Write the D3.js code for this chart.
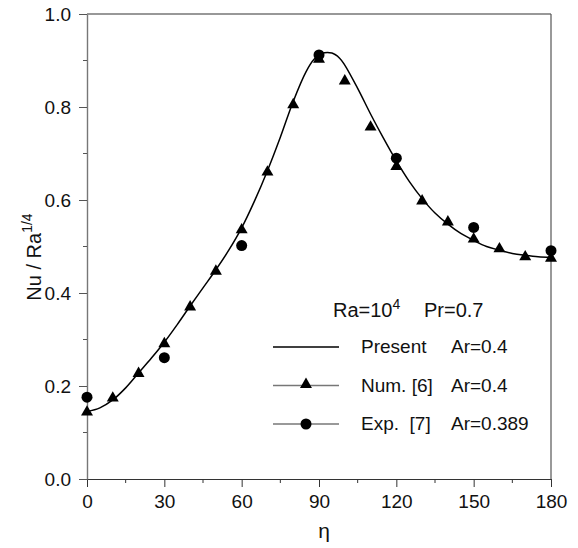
<!DOCTYPE html>
<html>
<head>
<meta charset="utf-8">
<script src="https://cdn.jsdelivr.net/npm/d3@7"></script>
<style>
  body { margin: 0; background: #fff; }
  svg { font-family: "Liberation Sans", Arial, sans-serif; }
</style>
</head>
<body>
<svg></svg>
<script>
const width = 578;
const height = 548;

// Present (smooth curve)
const presentEta = [0, 5, 10, 15, 20, 25, 30, 35, 40, 45, 50, 55, 60, 65, 70, 75, 80, 85, 88, 91, 95, 98, 100, 105, 110, 115, 120, 125, 130, 135, 140, 145, 150, 155, 160, 165, 170, 175, 180];
const presentNu = [0.145, 0.153, 0.170, 0.196, 0.228, 0.260, 0.294, 0.332, 0.372, 0.411, 0.450, 0.492, 0.540, 0.598, 0.663, 0.735, 0.812, 0.876, 0.902, 0.915, 0.916, 0.905, 0.890, 0.840, 0.785, 0.733, 0.684, 0.640, 0.603, 0.572, 0.548, 0.528, 0.513, 0.500, 0.492, 0.485, 0.481, 0.478, 0.477];

// Num. [6]
const numEta = [0, 10, 20, 30, 40, 50, 60, 70, 80, 90, 100, 110, 120, 130, 140, 150, 160, 170, 180];
const numNu = [0.146, 0.176, 0.229, 0.293, 0.372, 0.449, 0.538, 0.662, 0.807, 0.905, 0.858, 0.759, 0.674, 0.600, 0.555, 0.518, 0.497, 0.480, 0.477];

// Exp. [7]
const expEta = [0, 30, 60, 90, 120, 150, 180];
const expNu = [0.176, 0.261, 0.502, 0.912, 0.690, 0.541, 0.491];

const xTicks = [0, 30, 60, 90, 120, 150, 180];
const xMinor = [15, 45, 75, 105, 135, 165];
const yTicks = [0.0, 0.2, 0.4, 0.6, 0.8, 1.0];
const yMinor = [0.1, 0.3, 0.5, 0.7, 0.9];

const legendLabels = ["Present", "Num. [6]", "Exp.  [7]"];
const legendAr = ["Ar=0.4", "Ar=0.4", "Ar=0.389"];

const margin = {left: 87, right: 27, top: 14, bottom: 69};
const svg = d3.select('svg').attr('width', width).attr('height', height);

const x = d3.scaleLinear().domain([0, 180]).range([margin.left, width - margin.right]);
const y = d3.scaleLinear().domain([0, 1]).range([height - margin.bottom, margin.top]);

const fs = 19;

// frame
svg.append('line').attr('x1', x(0)).attr('x2', x(180)).attr('y1', y(1)).attr('y2', y(1))
    .attr('stroke', '#333').attr('stroke-width', 1.2);
svg.append('line').attr('x1', x(180)).attr('x2', x(180)).attr('y1', y(1)).attr('y2', y(0))
    .attr('stroke', '#555').attr('stroke-width', 1.2);

// x axis
const xAxis = svg.append('g').attr('transform', `translate(0,${y(0)})`)
    .call(d3.axisBottom(x).tickValues(xTicks).tickSize(8).tickSizeOuter(0).tickPadding(8).tickFormat(d3.format('d')));
xAxis.append('g').selectAll('line').data(xMinor).join('line')
    .attr('x1', d => x(d)).attr('x2', d => x(d)).attr('y1', 0).attr('y2', 4).attr('stroke', '#333');
xAxis.select('.domain').attr('stroke', '#333').attr('stroke-width', 1.2);
xAxis.selectAll('.tick line').attr('stroke', '#333');
xAxis.selectAll('text').attr('font-size', fs).attr('font-family', null).attr('fill', '#111');

// y axis
const yAxis = svg.append('g').attr('transform', `translate(${x(0)},0)`)
    .call(d3.axisLeft(y).tickValues(yTicks).tickSize(8).tickSizeOuter(0).tickPadding(8).tickFormat(d3.format('.1f')));
yAxis.append('g').selectAll('line').data(yMinor).join('line')
    .attr('y1', d => y(d)).attr('y2', d => y(d)).attr('x1', 0).attr('x2', -4).attr('stroke', '#555');
yAxis.select('.domain').attr('stroke', '#777').attr('stroke-width', 1.4);
yAxis.selectAll('.tick line').attr('stroke', '#555');
yAxis.selectAll('text').attr('font-size', fs).attr('font-family', null).attr('fill', '#111');

// axis titles
svg.append('text').attr('x', 324).attr('y', 538).attr('text-anchor', 'middle')
    .attr('font-size', 21).attr('fill', '#111').text('η');
const yTitle = svg.append('text')
    .attr('transform', 'translate(41,257) rotate(-90)')
    .attr('text-anchor', 'middle').attr('font-size', 20).attr('fill', '#111');
yTitle.append('tspan').text('Nu / Ra');
yTitle.append('tspan').attr('font-size', 14).attr('dy', -9).text('1/4');

// present curve
const line = d3.line().x(d => x(d[0])).y(d => y(d[1])).curve(d3.curveCatmullRom.alpha(0.5));
svg.append('path').datum(d3.zip(presentEta, presentNu))
    .attr('d', line).attr('fill', 'none').attr('stroke', '#000').attr('stroke-width', 1.5);

const tri = d3.symbol().type(d3.symbolTriangle).size(62);

svg.append('g').selectAll('path').data(d3.zip(numEta, numNu)).join('path')
    .attr('d', tri).attr('transform', d => `translate(${x(d[0])},${y(d[1]) + 1})`).attr('fill', '#000');

svg.append('g').selectAll('circle').data(d3.zip(expEta, expNu)).join('circle')
    .attr('cx', d => x(d[0])).attr('cy', d => y(d[1])).attr('r', 5.5).attr('fill', '#000');

// legend
const lg = svg.append('g');
const title = lg.append('text').attr('x', 333).attr('y', 317).attr('font-size', 20).attr('fill', '#111');
title.append('tspan').text('Ra=10');
title.append('tspan').attr('font-size', 14).attr('dy', -8).text('4');
lg.append('text').attr('x', 424).attr('y', 317).attr('font-size', 20).attr('fill', '#111').text('Pr=0.7');

const rowY = [347, 385.5, 424];
legendLabels.forEach((lab, i) => {
    lg.append('line').attr('x1', 273).attr('x2', 339).attr('y1', rowY[i]).attr('y2', rowY[i])
        .attr('stroke', i === 0 ? '#000' : '#777').attr('stroke-width', 1.3);
    if (i === 1) {
        lg.append('path').attr('d', tri).attr('transform', `translate(306,${rowY[i] - 1})`).attr('fill', '#000');
    }
    if (i === 2) {
        lg.append('circle').attr('cx', 306).attr('cy', rowY[i]).attr('r', 5.5).attr('fill', '#000');
    }
    lg.append('text').attr('x', 361).attr('y', rowY[i] + 6).attr('font-size', fs).attr('fill', '#111')
        .style('white-space', 'pre').text(lab);
    lg.append('text').attr('x', 451).attr('y', rowY[i] + 6).attr('font-size', fs).attr('fill', '#111').text(legendAr[i]);
});
</script>
</body>
</html>
